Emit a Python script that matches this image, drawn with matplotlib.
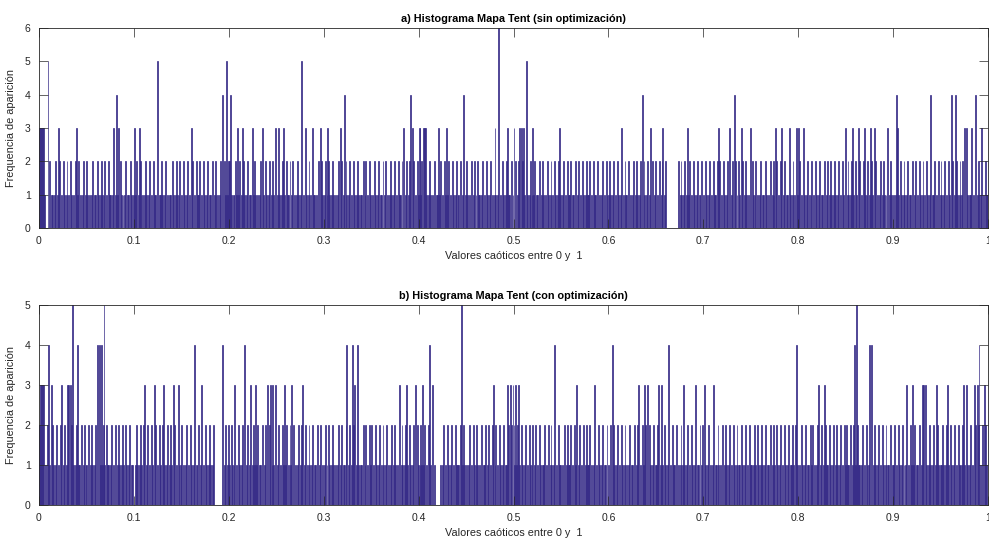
import numpy as np
import matplotlib
matplotlib.use("Agg")
import matplotlib.pyplot as plt

plt.rcParams['font.family'] = ['Liberation Sans', 'DejaVu Sans']

# Bin counts for 1000 equal-width bins on [0, 1], typed as digit strings
# (background level) plus the taller bins and empty runs listed separately.
base_sin = """
1012010211 0201101201 1201021012 0102101021 1201012010
2101012011 0210121012 0102110120 1012021010 1201102101
0120102101 0121012010 2110201012 1012010110 2101210120
1021012010 1201020112 0102101201 1020121010 1201021012
2010110210 1201021012 0110201210 1012011021 0120102101
0121012010 2110201201 0121012010 2101201021 1010201210
1201021012 1010120120 1102101201 0210121011 0201201021
0102101201 1020120101 2101201021 1020101201 2101201021
1012010210 1210102011 2012010210 1201021012 0110201201
2101020120 1021101201 0210120101 2101201021 0120110201
1020121012 0102101201 0120110201 2101021012 0102101201
0120102101 2011020120 1021012101 2010211020 1012010210
1210120102 1012010211 0201012012 1012010210 1201102012
0102012101 2010211012 0102012101 2010120102 1012011020
1021012010 2110201201 0210120101 2012010210 1201210102
0210120101 2011021010 2012101201 0210120110 2101201021
1201021012 0101201021 0120110201 2010210121 0120102101
0121012010 2101201021 1012010210 1201012012 1010201210
1012010210 1210120110 2012010210 1201021012 0112010201
2101201021 0120102101 2012010210 1120102012 1012010211
"""

base_con = """
2101201020 1101210120 1021012010 2101201012 0110201201
1020121012 0102101201 0211012010 2012101201 0210120110
0121012010 2101201021 0120102110 2010120121 0120102101
2010120102 1012011020 1201021012 1012010211 0201012012
1021012010 2101201012 0120102101 2011020120 1021012101
0120102101 2010211020 1012012101 2010210120 1102012010
1201021012 1010120120 1102101201 0210121011 0201201021
2010210120 1021012010 1201210102 0121012010 2101201021
0121012010 2110201012 0121012010 2101201021 1010201210
1012010210 1210102011 2012010210 1201021012 0110201201
2101201021 0120102101 2012010210 1120102012 1012010211
0102012101 2010211012 0102012101 2010120102 1012011020
1020121012 0102101201 0120110201 2101021012 0102101201
1210120102 1012010211 0201012012 1012010210 1201102012
0210120101 2011021010 2012101201 0210120110 2101201021
1012010210 1210120110 2012010210 1201021012 0112010201
0102101201 1020120101 2101201021 1020101201 2101201021
2101020120 1021101201 0210120101 2101201021 0120110201
1201021012 0101201021 0120110201 2010210121 0120102101
0121012010 2101201021 1012010210 1201012012 1010201210
"""

# taller bins: bin index -> count
peaks_sin = {9: 5, 81: 4, 124: 5, 193: 4, 197: 5, 201: 4, 276: 5, 321: 4,
             391: 4, 447: 4, 484: 6, 513: 5, 635: 4, 732: 4, 903: 4, 939: 4,
             961: 4, 965: 4, 986: 4}
threes_sin = [0, 1, 2, 3, 4, 20, 39, 78, 83, 100, 105, 160, 209, 214, 224,
              235, 249, 252, 257, 280, 288, 296, 304, 317, 384, 393, 400, 401,
              405, 406, 407, 420, 429, 480, 493, 500, 506, 508, 510, 520, 548,
              613, 644, 657, 683, 716, 727, 740, 749, 776, 782, 790, 798, 800,
              805, 849, 857, 863, 869, 876, 880, 894, 904, 975, 977, 982, 993]
empty_sin = [6, 7, 8] + list(range(662, 673))

peaks_con = {10: 4, 35: 5, 40: 4, 61: 4, 63: 4, 65: 4, 68: 5, 163: 4,
             193: 4, 216: 4, 324: 4, 330: 4, 335: 4, 411: 4, 445: 5, 543: 4,
             604: 4, 663: 4, 798: 4, 859: 4, 861: 5, 875: 4, 877: 4, 990: 4}
threes_con = [1, 2, 3, 4, 13, 23, 30, 31, 33, 111, 121, 131, 141, 146, 171,
              206, 222, 228, 240, 243, 246, 249, 258, 266, 277, 332, 379, 387,
              396, 404, 414, 478, 493, 496, 499, 502, 505, 566, 585, 631, 638,
              641, 652, 655, 679, 691, 701, 710, 821, 827, 914, 920, 930, 932,
              934, 945, 957, 974, 977, 985, 988, 996]
empty_con = [27] + list(range(185, 192)) + list(range(417, 423))

titles = ['a) Histograma Mapa Tent (sin optimización)',
          'b) Histograma Mapa Tent (con optimización)']
ymax = [6, 5]

BAR = '#352A87'
AXC = '#262626'


def build_counts(base, peaks, threes, empty):
    digits = ''.join(base.split())
    counts = np.array([int(c) for c in digits])
    assert len(counts) == 1000, len(counts)
    counts[empty] = 0
    counts[threes] = 3
    for k, v in peaks.items():
        counts[k] = v
    return counts


def draw_hist(ax, counts, title, top):
    edges = np.linspace(0, 1, len(counts) + 1)
    ax.bar(edges[:-1], counts, width=np.diff(edges), align='edge',
           color=BAR, edgecolor=BAR, linewidth=0.5)
    ax.set_xlim(0, 1)
    ax.set_ylim(0, top)
    ax.set_xticks(np.arange(0, 1.01, 0.1))
    ax.set_xticklabels(['0', '0.1', '0.2', '0.3', '0.4', '0.5', '0.6', '0.7',
                        '0.8', '0.9', '1'])
    ax.set_yticks(range(top + 1))
    ax.tick_params(direction='in', top=True, right=True, length=6.5,
                   width=0.5, colors=AXC, labelsize=7.5, pad=6)
    for s in ax.spines.values():
        s.set_linewidth(0.6)
        s.set_color(AXC)
    ax.set_title(title, fontsize=7.8, fontweight='bold', pad=4)
    ax.set_xlabel('Valores caóticos entre 0 y  1', fontsize=7.8, color=AXC,
                  labelpad=3)
    ax.set_ylabel('Frequencia de aparición', fontsize=7.8, color=AXC,
                  labelpad=6)


counts_sin = build_counts(base_sin, peaks_sin, threes_sin, empty_sin)
counts_con = build_counts(base_con, peaks_con, threes_con, empty_con)

fig = plt.figure(figsize=(9.89, 5.44), dpi=100)
W, H = 989, 544
ax1 = fig.add_axes([39 / W, 1 - 228 / H, 949 / W, 200 / H])
ax2 = fig.add_axes([39 / W, 1 - 505 / H, 949 / W, 200 / H])

draw_hist(ax1, counts_sin, titles[0], ymax[0])
draw_hist(ax2, counts_con, titles[1], ymax[1])

fig.savefig('out.png', dpi=100)
